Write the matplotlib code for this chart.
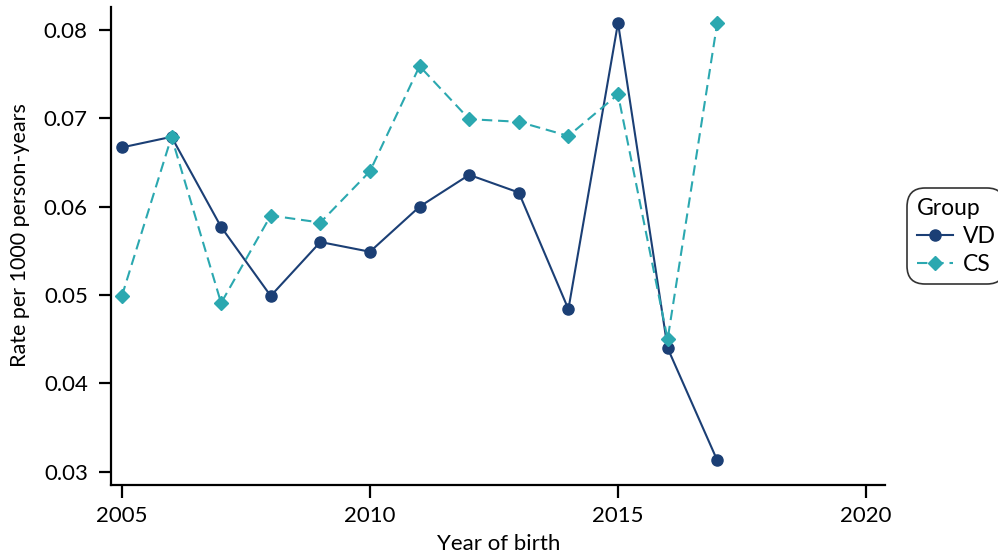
import matplotlib
matplotlib.use("Agg")
import matplotlib.pyplot as plt

plt.rcParams['font.family'] = ['Lato', 'DejaVu Sans']

# Year of birth and rates per 1000 person-years
years = [2005, 2006, 2007, 2008, 2009, 2010, 2011, 2012, 2013, 2014, 2015, 2016, 2017]
vd_rate = [0.0667, 0.0679, 0.0577, 0.0499, 0.0560, 0.0549, 0.0600,
           0.0636, 0.0616, 0.0484, 0.0808, 0.0440, 0.0313]
cs_rate = [0.0499, 0.0679, 0.0491, 0.0590, 0.0582, 0.0640, 0.0759,
           0.0699, 0.0696, 0.0680, 0.0727, 0.0450, 0.0808]

x_ticks = [2005, 2010, 2015, 2020]
y_ticks = [0.03, 0.04, 0.05, 0.06, 0.07, 0.08]

vd_color = "#1b3f75"
cs_color = "#2ba8b0"

fig = plt.figure(figsize=(9.98, 5.58), dpi=100)
ax = fig.add_axes([0.1117, 0.1305, 0.7750, 0.8565])

ax.plot(years, vd_rate, color=vd_color, lw=1.5, marker="o", ms=8, label="VD")
ax.plot(years, cs_rate, color=cs_color, lw=1.5, ls=(0, (5, 2.8)), marker="D", ms=7, label="CS")

ax.set_xlim(2004.79, 2020.38)
ax.set_ylim(0.02849, 0.08256)
ax.set_xticks(x_ticks)
ax.set_yticks(y_ticks)
ax.set_yticklabels([f"{v:.2f}" for v in y_ticks])

for side in ["top", "right"]:
    ax.spines[side].set_visible(False)
for side in ["left", "bottom"]:
    ax.spines[side].set_linewidth(1.6)
ax.tick_params(axis="both", length=9, width=1.6, labelsize=16)
ax.tick_params(axis="y", pad=8)
ax.tick_params(axis="x", pad=6)

ax.set_xlabel("Year of birth", fontsize=16, labelpad=6)
ax.set_ylabel("Rate per 1000 person-years", fontsize=15.5)
ax.yaxis.set_label_coords(-0.105, 0.523)

leg = fig.legend(loc="upper left", bbox_to_anchor=(0.9088, 0.6625), title="Group",
                 fontsize=16.5, title_fontsize=16.5, frameon=True, fancybox=True,
                 edgecolor="black", handlelength=1.6, handletextpad=0.4,
                 borderpad=0.42, borderaxespad=0, labelspacing=0.3, alignment="left")
leg.get_frame().set_linewidth(1.2)
leg.get_frame().set_boxstyle("round,pad=0,rounding_size=0.8")

fig.savefig("out.png", dpi=100)
